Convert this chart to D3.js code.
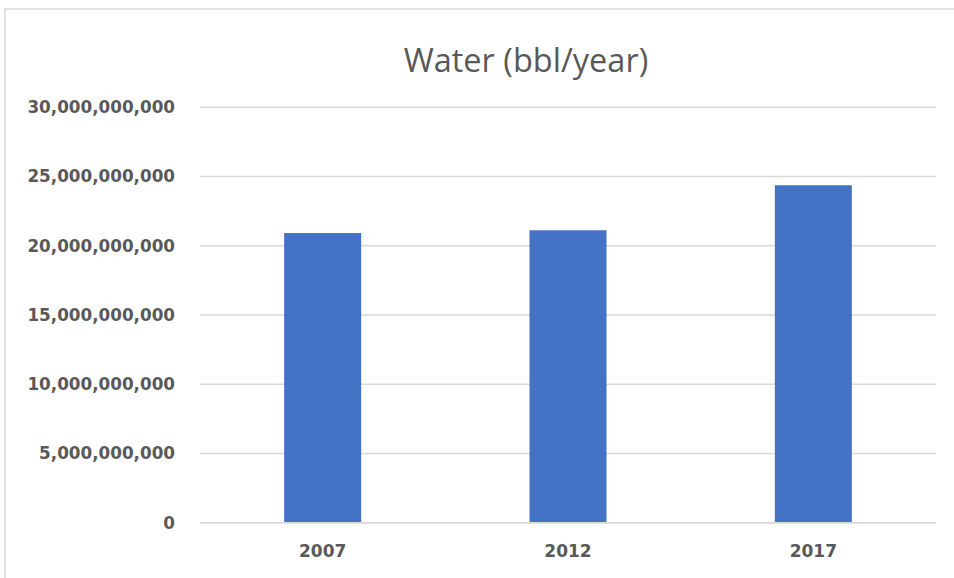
<!DOCTYPE html>
<html>
<head>
<meta charset="utf-8">
<script src="https://cdn.jsdelivr.net/npm/d3@7"></script>
<style>
html,body{margin:0;padding:0;background:#fff;}
svg{display:block;}
</style>
</head>
<body>
<svg id="chart" width="954" height="578"></svg>
<script>
const categories = ["2007", "2012", "2017"];
const values = [20920000000, 21120000000, 24370000000];
const yTicks = [0, 5000000000, 10000000000, 15000000000, 20000000000, 25000000000, 30000000000];
const title = "Water (bbl/year)";

const svg = d3.select("#chart");
const plot = {left: 200, right: 936, top: 107.3, bottom: 522.7};

// chart border
svg.append("rect").attr("x", 5).attr("y", 9).attr("width", 960).attr("height", 600)
  .attr("fill", "#fff").attr("stroke", "#d9d9d9").attr("stroke-width", 1.5);

const x = d3.scaleBand().domain(categories).range([plot.left, plot.right])
  .paddingInner(0.686).paddingOuter(0.343);
const y = d3.scaleLinear().domain([0, 30000000000]).range([plot.bottom, plot.top]);

// gridlines
svg.append("g").selectAll("line").data(yTicks).join("line")
  .attr("x1", plot.left).attr("x2", plot.right)
  .attr("y1", d => y(d)).attr("y2", d => y(d))
  .attr("stroke", "#d9d9d9").attr("stroke-width", 1.5);

// bars
svg.append("g").selectAll("rect").data(values).join("rect")
  .attr("x", (d, i) => x(categories[i]))
  .attr("width", x.bandwidth())
  .attr("y", d => y(d))
  .attr("height", d => y(0) - y(d))
  .attr("fill", "#4472c4");

svg.append("line").attr("x1", plot.left).attr("x2", plot.right)
  .attr("y1", y(0)).attr("y2", y(0)).attr("stroke", "#d9d9d9").attr("stroke-width", 1.5);

// y axis labels
const fmt = d3.format(",");
const yAxis = d3.axisLeft(y).tickValues(yTicks).tickFormat(d => fmt(d)).tickSize(0).tickPadding(25);
const gy = svg.append("g").attr("transform", `translate(${plot.left},0)`).call(yAxis);
gy.select(".domain").remove();
gy.selectAll("text").attr("font-family", "'DejaVu Sans', sans-serif")
  .attr("font-size", 16.8).attr("font-weight", "bold").attr("fill", "#595959");

// x axis labels
const xAxis = d3.axisBottom(x).tickSize(0).tickPadding(22);
const gx = svg.append("g").attr("transform", `translate(0,${plot.bottom})`).call(xAxis);
gx.select(".domain").remove();
gx.selectAll("text").attr("font-family", "'DejaVu Sans', sans-serif")
  .attr("font-size", 17).attr("font-weight", "bold").attr("fill", "#595959");

// title
svg.append("text").attr("x", 526).attr("y", 72).attr("text-anchor", "middle")
  .attr("font-family", "'Open Sans', sans-serif").attr("font-size", 32.5)
  .attr("fill", "#595959").text(title);
</script>
</body>
</html>
